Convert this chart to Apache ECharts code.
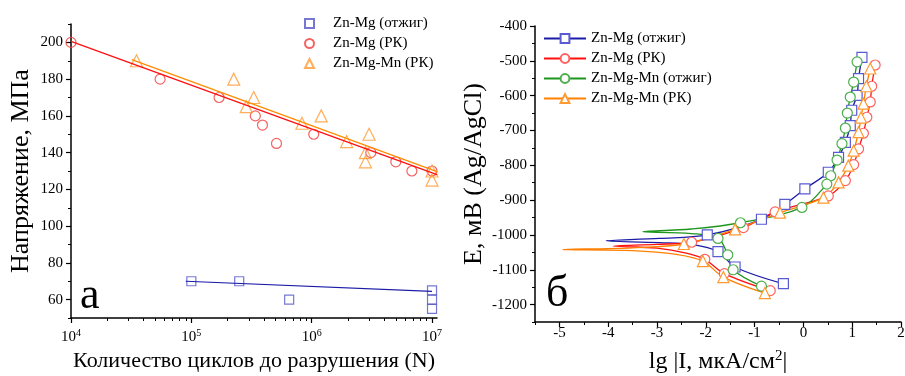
<!DOCTYPE html>
<html>
<head>
<meta charset="utf-8">
<script src="https://cdn.jsdelivr.net/npm/echarts@6/dist/echarts.min.js"></script>
<style>
  html, body { margin: 0; background: #fff; }
  #chart { width: 905px; height: 376px; }
</style>
</head>
<body>
<div id="chart"></div>
<script>
// ---- панель а: усталость (напряжение vs число циклов) ----
const annealN = [1e5, 2.5e5, 6.5e5, 1e7, 1e7, 1e7];
const annealS = [70, 70, 60, 65, 60, 55];
const rkN = [1e4, 5.5e4, 1.7e5, 3.4e5, 3.9e5, 5.1e5, 1.04e6, 3.1e6, 5e6, 6.8e6, 1e7];
const rkS = [200, 180, 170, 160, 155, 145, 150, 140, 135, 130, 130];
const mnRkN = [3.5e4, 2.25e5, 2.86e5, 3.3e5, 8.3e5, 1.2e6, 1.95e6, 2.8e6, 2.8e6, 3e6, 1e7, 1e7];
const mnRkS = [190, 180, 165, 170, 156, 160, 146, 140, 135, 150, 130, 125];
// линии аппроксимации
const fitAnnealN = [9e4, 1e7];
const fitAnnealS = [70, 64.5];
const fitRkN = [1e4, 1.1e7];
const fitRkS = [200.5, 128];
const fitMnN = [3.2e4, 1.1e7];
const fitMnS = [190.6, 129.7];
const nTicks = [1e4, 1e5, 1e6, 1e7];
const sTicks = [60, 80, 100, 120, 140, 160, 180, 200];

// ---- панель б: поляризационные кривые [lg I, E] ----
const znMgAnnAnod = [[1.20, -490], [1.13, -551], [1.10, -599], [0.99, -642], [0.96, -686], [0.86, -734], [0.72, -777], [0.51, -820], [0.03, -868], [-0.38, -912], [-0.86, -955], [-1.97, -1000]];
const znMgAnnTip = [[-2.95, -1010], [-4.04, -1017], [-2.95, -1022], [-2.26, -1028]];
const znMgAnnCath = [[-1.75, -1048], [-1.40, -1092], [-0.41, -1140]];

const znMgRkAnod = [[1.47, -512], [1.40, -573], [1.37, -618], [1.30, -662], [1.23, -708], [1.13, -753], [1.03, -798], [0.86, -844], [0.51, -888], [-0.58, -934], [-1.23, -979], [-2.29, -1021]];
const znMgRkTip = [[-3.0, -1027], [-3.90, -1032], [-3.0, -1038], [-2.4, -1052]];
const znMgRkCath = [[-2.02, -1070], [-1.62, -1111], [-0.68, -1160]];

const mnAnnAnod = [[1.10, -503], [1.03, -561], [0.96, -604], [0.90, -650], [0.86, -693], [0.79, -738], [0.69, -785], [0.56, -830], [0.48, -854], [-0.03, -921], [-1.29, -965]];
const mnAnnTip = [[-2.3, -983], [-3.29, -991], [-2.3, -996]];
const mnAnnCath = [[-1.75, -1010], [-1.55, -1057], [-1.44, -1100], [-0.86, -1147]];

const mnRkAnod = [[1.37, -522], [1.29, -573], [1.23, -623], [1.18, -663], [1.13, -705], [1.03, -758], [0.92, -801], [0.72, -849], [0.41, -893], [-0.48, -936], [-1.40, -984], [-2.45, -1026]];
const mnRkTip = [[-3.5, -1037], [-4.93, -1042], [-3.5, -1045], [-2.6, -1056]];
const mnRkCath = [[-2.06, -1075], [-1.64, -1121], [-0.79, -1167]];

const lgTicks = [-5, -4, -3, -2, -1, 0, 1, 2];
const eTicks = [-1200, -1100, -1000, -900, -800, -700, -600, -500, -400];

const FONT = 'Liberation Serif';

function pairs(xs, ys) {
  return xs.map((x, i) => [x, ys[i]]);
}
function curve(anod, tip, cath) {
  return anod.concat(tip.map(p => ({ value: p, symbol: 'none' })), cath);
}
function range(a, b, step) {
  const r = [];
  for (let v = a; v <= b + 1e-9; v += step) r.push(+v.toFixed(3));
  return r;
}
const logMinor = [];
for (let e = 4; e <= 6; e++) for (let k = 2; k <= 9; k++) logMinor.push(k * Math.pow(10, e));

const axisLine = { show: true, onZero: false, lineStyle: { color: '#000', width: 1.5 } };
// вспомогательные оси только для мелких делений
const hiddenLine = { show: true, onZero: false, lineStyle: { color: 'rgba(0,0,0,0)', width: 1 } };
const labelStyle = { color: '#000', fontFamily: FONT, fontSize: 15, formatter: v => String(v) };

let myChart = echarts.init(document.getElementById('chart'));

function hollow(color) {
  return { color: 'rgba(255,255,255,0)', borderColor: color, borderWidth: 1.2 };
}

function polLine(name, data, lineColor, markColor, symbol, size) {
  return {
    name: name, type: 'line', xAxisIndex: 2, yAxisIndex: 2,
    data: data, smooth: 0.35, symbol: symbol, symbolSize: size,
    lineStyle: { color: lineColor, width: 1.3 },
    itemStyle: { color: '#fff', borderColor: markColor, borderWidth: 1.2 },
    z: 3
  };
}

myChart.setOption({
  animation: false,
  backgroundColor: '#fff',
  grid: [
    { left: 71, top: 24, width: 366, height: 294, outerBoundsMode: 'none' },
    { left: 535, top: 26, width: 366, height: 296, outerBoundsMode: 'none' }
  ],
  xAxis: [
    {
      type: 'log', gridIndex: 0, logBase: 10, min: 1e4, max: 1.1e7, position: 'bottom',
      axisLine: axisLine,
      axisTick: { show: true, customValues: nTicks, length: 5, lineStyle: { color: '#000', width: 1.2 } },
      axisLabel: {
        customValues: nTicks, margin: 10,
        formatter: v => '{b|10}{s|' + Math.round(Math.log10(v)) + '}',
        rich: {
          b: { fontFamily: FONT, fontSize: 15, color: '#000' },
          s: { fontFamily: FONT, fontSize: 10, color: '#000', padding: [0, 0, 8, 0] }
        }
      },
      splitLine: { show: false },
      name: 'Количество циклов до разрушения (N)', nameLocation: 'middle', nameGap: 32,
      nameTextStyle: { fontFamily: FONT, fontSize: 22, color: '#000' }
    },
    {
      type: 'log', gridIndex: 0, logBase: 10, min: 1e4, max: 1.1e7, position: 'bottom',
      axisLine: hiddenLine,
      axisTick: { show: true, customValues: logMinor, length: 3, lineStyle: { color: '#000', width: 1 } },
      axisLabel: { show: false }, splitLine: { show: false }
    },
    {
      type: 'value', gridIndex: 1, min: -5.5, max: 2, position: 'bottom',
      axisLine: axisLine,
      axisTick: { show: true, customValues: lgTicks, length: 5, lineStyle: { color: '#000', width: 1.2 } },
      axisLabel: Object.assign({ customValues: lgTicks, margin: 4 }, labelStyle),
      splitLine: { show: false },
      name: 'lg |I, мкА/см{s|2}|', nameLocation: 'middle', nameGap: 27,
      nameTextStyle: {
        fontFamily: FONT, fontSize: 24, color: '#000',
        rich: { s: { fontFamily: FONT, fontSize: 15, color: '#000', padding: [0, 0, 11, 0] } }
      }
    },
    {
      type: 'value', gridIndex: 1, min: -5.5, max: 2, position: 'bottom',
      axisLine: hiddenLine,
      axisTick: { show: true, customValues: range(-5.5, 1.5, 1), length: 3, lineStyle: { color: '#000', width: 1 } },
      axisLabel: { show: false }, splitLine: { show: false }
    }
  ],
  yAxis: [
    {
      type: 'value', gridIndex: 0, min: 50, max: 210, position: 'left',
      axisLine: axisLine,
      axisTick: { show: true, customValues: sTicks, length: 5, lineStyle: { color: '#000', width: 1.2 } },
      axisLabel: Object.assign({ customValues: sTicks, margin: 8 }, labelStyle),
      splitLine: { show: false },
      name: 'Напряжение, МПа', nameLocation: 'middle', nameGap: 37,
      nameTextStyle: { fontFamily: FONT, fontSize: 26, color: '#000' }
    },
    {
      type: 'value', gridIndex: 0, min: 50, max: 210, position: 'left',
      axisLine: hiddenLine,
      axisTick: { show: true, customValues: range(50, 210, 20), length: 3, lineStyle: { color: '#000', width: 1 } },
      axisLabel: { show: false }, splitLine: { show: false }
    },
    {
      type: 'value', gridIndex: 1, min: -1250, max: -400, position: 'left',
      axisLine: axisLine,
      axisTick: { show: true, customValues: eTicks, length: 5, lineStyle: { color: '#000', width: 1.2 } },
      axisLabel: Object.assign({ customValues: eTicks, margin: 8 }, labelStyle),
      splitLine: { show: false },
      name: 'E, мВ (Ag/AgCl)', nameLocation: 'middle', nameGap: 48,
      nameTextStyle: { fontFamily: FONT, fontSize: 26, color: '#000' }
    },
    {
      type: 'value', gridIndex: 1, min: -1250, max: -400, position: 'left',
      axisLine: hiddenLine,
      axisTick: { show: true, customValues: range(-1250, -450, 100), length: 3, lineStyle: { color: '#000', width: 1 } },
      axisLabel: { show: false }, splitLine: { show: false }
    }
  ],
  legend: [
    {
      data: ['Zn-Mg (отжиг)', 'Zn-Mg (РК)', 'Zn-Mg-Mn (РК)'],
      left: 299, top: 11, orient: 'vertical', itemGap: 5,
      itemWidth: 9, itemHeight: 9,
      textStyle: { fontFamily: FONT, fontSize: 15, color: '#000', padding: [0, 0, 0, 14] }
    },
    {
      data: ['Zn-Mg (отжиг) ', 'Zn-Mg (РК) ', 'Zn-Mg-Mn (отжиг)', 'Zn-Mg-Mn (РК) '],
      left: 538, top: 26, orient: 'vertical', itemGap: 5,
      itemWidth: 42, itemHeight: 11,
      textStyle: { fontFamily: FONT, fontSize: 15, color: '#000' }
    }
  ],
  graphic: [
    { type: 'text', left: 80, top: 274, style: { text: 'а', font: '44px "Liberation Serif"', fill: '#000' } },
    { type: 'text', left: 546, top: 272, style: { text: 'б', font: '44px "Liberation Serif"', fill: '#000' } }
  ],
  series: [
    // панель а
    {
      name: 'fitAnneal', type: 'line', xAxisIndex: 0, yAxisIndex: 0,
      data: pairs(fitAnnealN, fitAnnealS), showSymbol: false, silent: true,
      lineStyle: { color: '#1c1ca8', width: 1.2 }
    },
    {
      name: 'fitRk', type: 'line', xAxisIndex: 0, yAxisIndex: 0,
      data: pairs(fitRkN, fitRkS), showSymbol: false, silent: true,
      lineStyle: { color: '#ff1010', width: 1.3 }
    },
    {
      name: 'fitMn', type: 'line', xAxisIndex: 0, yAxisIndex: 0,
      data: pairs(fitMnN, fitMnS), showSymbol: false, silent: true,
      lineStyle: { color: '#ff8c00', width: 1.3 }
    },
    {
      name: 'Zn-Mg (отжиг)', type: 'scatter', xAxisIndex: 0, yAxisIndex: 0,
      data: pairs(annealN, annealS), symbol: 'rect', symbolSize: 9,
      itemStyle: hollow('#5555c8')
    },
    {
      name: 'Zn-Mg (РК)', type: 'scatter', xAxisIndex: 0, yAxisIndex: 0,
      data: pairs(rkN, rkS), symbol: 'circle', symbolSize: 10,
      itemStyle: hollow('#f03c3c')
    },
    {
      name: 'Zn-Mg-Mn (РК)', type: 'scatter', xAxisIndex: 0, yAxisIndex: 0,
      data: pairs(mnRkN, mnRkS), symbol: 'triangle', symbolSize: 12,
      itemStyle: hollow('#ff9a30')
    },
    // панель б
    polLine('Zn-Mg (отжиг) ', curve(znMgAnnAnod, znMgAnnTip, znMgAnnCath), '#1c1ca8', '#5a5ad2', 'rect', 10),
    polLine('Zn-Mg (РК) ', curve(znMgRkAnod, znMgRkTip, znMgRkCath), '#ff1010', '#ff6060', 'circle', 10),
    polLine('Zn-Mg-Mn (отжиг)', curve(mnAnnAnod, mnAnnTip, mnAnnCath), '#1e961e', '#4caf4c', 'circle', 10),
    polLine('Zn-Mg-Mn (РК) ', curve(mnRkAnod, mnRkTip, mnRkCath), '#ff8000', '#ff9a30', 'triangle', 11)
  ]
});
</script>
</body>
</html>
